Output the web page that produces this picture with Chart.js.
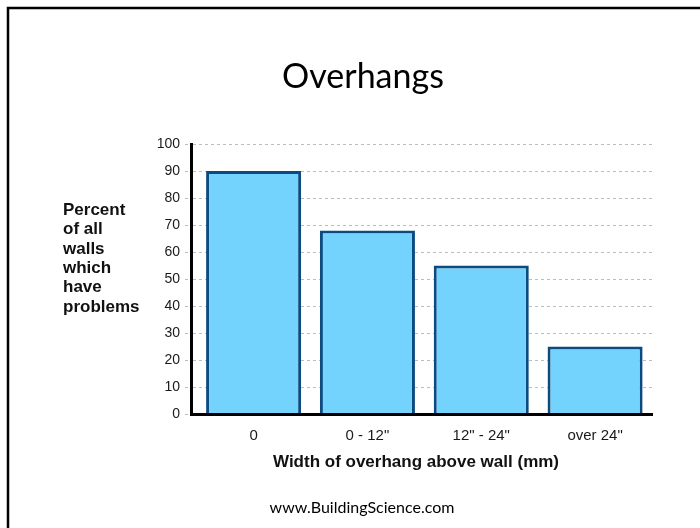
<!DOCTYPE html>
<html>
<head>
<meta charset="utf-8">
<script src="https://cdn.jsdelivr.net/npm/chart.js@4.4.1/dist/chart.umd.min.js"></script>
<style>
  html, body { margin: 0; padding: 0; background: #fff; }
  #wrap { width: 700px; height: 528px; position: relative; }
  canvas { display: block; }
</style>
</head>
<body>
<div id="wrap"><canvas id="chart" width="700" height="528"></canvas></div>
<script>
// Overhang width categories and share of walls with problems (%)
const categories = ['0', '0 - 12"', '12" - 24"', 'over 24"'];
const percentWithProblems = [90, 68, 55, 25];

// Axis range and step for the percentage scale
const yMin = 0;
const yMax = 100;
const yStep = 10;

// Text on the slide
const slideTitle = 'Overhangs';
const yTitleLines = ['Percent', 'of all', 'walls', 'which', 'have', 'problems'];
const xTitle = 'Width of overhang above wall (mm)';
const footerText = 'www.BuildingScience.com';

const barPoints = categories.map((c, i) => ({ x: i, y: percentWithProblems[i] }));

// Slide frame, headline, axis titles and footer
const slideDecor = {
  id: 'slideDecor',
  beforeDraw(chart) {
    const ctx = chart.ctx;
    ctx.save();
    ctx.fillStyle = '#ffffff';
    ctx.fillRect(0, 0, chart.width, chart.height);
    ctx.strokeStyle = '#000';
    ctx.lineWidth = 2.5;
    ctx.beginPath();
    ctx.moveTo(8, chart.height);
    ctx.lineTo(8, 8);
    ctx.lineTo(chart.width, 8);
    ctx.stroke();
    ctx.restore();
  },
  afterDraw(chart) {
    const ctx = chart.ctx;
    ctx.save();
    ctx.fillStyle = '#000';
    ctx.textAlign = 'center';
    ctx.textBaseline = 'alphabetic';
    ctx.font = '34px Lato, "Open Sans", sans-serif';
    ctx.fillText(slideTitle, 363, 88);

    ctx.fillStyle = '#111';
    ctx.font = 'bold 17px "Liberation Sans", Arial, sans-serif';
    ctx.fillText(xTitle, 416, 467);

    ctx.textAlign = 'left';
    yTitleLines.forEach((line, i) => {
      ctx.fillText(line, 63, 215 + i * 19.3);
    });

    ctx.fillStyle = '#000';
    ctx.textAlign = 'center';
    ctx.font = '16px Lato, "Open Sans", sans-serif';
    ctx.fillText(footerText, 362, 513);
    ctx.restore();
  }
};

new Chart(document.getElementById('chart'), {
  type: 'bar',
  data: {
    datasets: [{
      data: barPoints,
      backgroundColor: '#73d3fc',
      borderColor: '#0c4a80',
      borderWidth: 3,
      borderSkipped: 'bottom',
      barPercentage: 0.835,
      categoryPercentage: 1
    }]
  },
  options: {
    responsive: false,
    devicePixelRatio: 1,
    animation: false,
    layout: { padding: { left: 100, right: 48, top: 144, bottom: 74 } },
    plugins: {
      legend: { display: false },
      title: { display: false },
      tooltip: { enabled: false }
    },
    scales: {
      x: {
        type: 'linear',
        offset: false,
        min: -0.55,
        max: 3.5,
        afterBuildTicks: (scale) => {
          scale.ticks = categories.map((c, i) => ({ value: i }));
        },
        afterFit: (scale) => { scale.height = 40; },
        ticks: {
          autoSkip: false,
          maxRotation: 0,
          padding: 13,
          color: '#1a1a1a',
          font: { family: '"Liberation Sans", Arial, sans-serif', size: 15 },
          callback: (v) => categories[v]
        },
        grid: { display: false, drawTicks: false, offset: false },
        border: { display: true, color: '#000', width: 3, z: 1 }
      },
      y: {
        min: yMin,
        max: yMax,
        afterFit: (scale) => { scale.width = 91; },
        ticks: {
          stepSize: yStep,
          padding: 5,
          color: '#1a1a1a',
          font: { family: '"Liberation Sans", Arial, sans-serif', size: 14 }
        },
        grid: {
          color: '#bdbdbd',
          lineWidth: 1,
          tickLength: 6,
          tickColor: '#bdbdbd',
          tickBorderDash: [3, 3]
        },
        border: { display: true, color: '#000', width: 3, dash: [3, 3], z: 1 }
      }
    }
  },
  plugins: [slideDecor]
});
</script>
</body>
</html>
